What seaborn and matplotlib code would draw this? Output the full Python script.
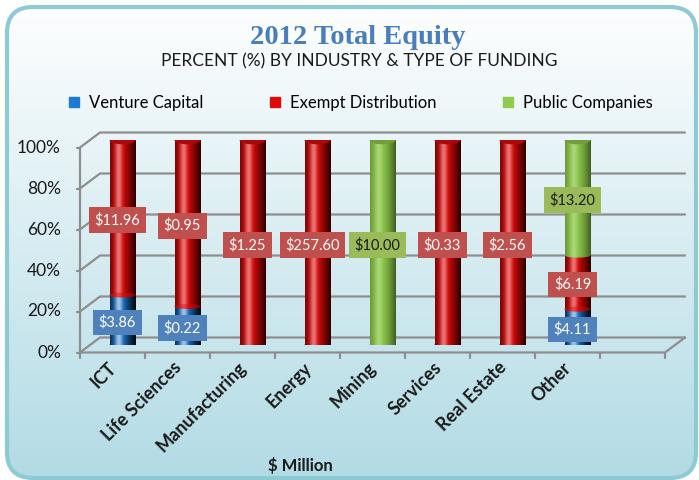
import numpy as np
import pandas as pd
import matplotlib
matplotlib.use("Agg")
import matplotlib.pyplot as plt
import seaborn as sns
from matplotlib.patches import FancyBboxPatch, Ellipse
from matplotlib.lines import Line2D
from matplotlib.transforms import ScaledTranslation
from matplotlib.colors import to_rgb

# ---- data ($ million) ----
industries = ["ICT", "Life Sciences", "Manufacturing", "Energy",
              "Mining", "Services", "Real Estate", "Other"]
venture_capital = [3.86, 0.22, 0.0, 0.0, 0.0, 0.0, 0.0, 4.11]
exempt_distribution = [11.96, 0.95, 1.25, 257.60, 0.0, 0.33, 2.56, 6.19]
public_companies = [0.0, 0.0, 0.0, 0.0, 10.00, 0.0, 0.0, 13.20]
series_names = ["Venture Capital", "Exempt Distribution", "Public Companies"]
y_ticks = [0, 20, 40, 60, 80, 100]

df = pd.DataFrame({"Industry": industries,
                   "Venture Capital": venture_capital,
                   "Exempt Distribution": exempt_distribution,
                   "Public Companies": public_companies})
total = df[series_names].sum(axis=1)
pct = df[series_names].div(total, axis=0) * 100
cum = pct.cumsum(axis=1)

bar_colors = {"Venture Capital": "#1f7ad4",
              "Exempt Distribution": "#de0a0a",
              "Public Companies": "#8fcb4c"}
box_colors = {"Venture Capital": "#4f81bd",
              "Exempt Distribution": "#c0504d",
              "Public Companies": "#9bbb59"}
box_text = {"Venture Capital": "white",
            "Exempt Distribution": "white",
            "Public Companies": "#1a1a1a"}

W, H, DPI = 6.99, 4.80, 100
fig = plt.figure(figsize=(W, H), dpi=DPI)
fig.patch.set_facecolor("white")

# ---- rounded panel with vertical gradient ----
bg = fig.add_axes([0, 0, 1, 1], zorder=-5)
bg.set_xlim(0, 699)
bg.set_ylim(480, 0)
bg.axis("off")
panel = FancyBboxPatch((7, 7), 689, 471, boxstyle="round,pad=0,rounding_size=26",
                       facecolor="none", edgecolor="#8ecad3", linewidth=3, zorder=3)
bg.add_patch(panel)
top_c = np.array(to_rgb("#ffffff"))
bot_c = np.array(to_rgb("#b2dbe5"))
t = np.linspace(0, 1, 256)[:, None]
grad = top_c[None, None, :] * (1 - t[..., None]) + bot_c[None, None, :] * t[..., None]
grad = np.repeat(grad, 2, axis=1)
im = bg.imshow(grad, extent=(0, 699, 480, 0), aspect="auto", zorder=1)
clip = FancyBboxPatch((7, 7), 689, 471, boxstyle="round,pad=0,rounding_size=26",
                      transform=bg.transData, facecolor="none", edgecolor="none")
bg.add_patch(clip)
im.set_clip_path(clip)

# ---- main plotting area (plane through the cylinders) ----
ax = fig.add_axes([90 / 699, 135 / 480, 585 / 699, 205 / 480])
ax.set_facecolor("none")
for s in ax.spines.values():
    s.set_visible(False)

xl, xr = -0.5, 8.5
DX = 10 / 65.0       # half depth of the 3-D box in category units
DY = 7.5 / 2.05      # half depth of the 3-D box in percent units
grid_kw = dict(color="#8e8e8e", lw=1.6, solid_capstyle="round", zorder=0.5, clip_on=False)

# back wall gridlines plus the slanted left wall
for yv in y_ticks:
    ax.plot([xl - DX, xl + DX, xr + DX], [yv - DY, yv + DY, yv + DY], **grid_kw)
    ax.plot([xl - DX - 0.04, xl - DX], [yv - DY, yv - DY], **grid_kw)
# front vertical axis and floor edge
ax.plot([xl - DX, xl - DX], [-DY, 100 - DY], **grid_kw)
ax.plot([xl - DX, xr - DX, xr + DX], [-DY, -DY, DY], **grid_kw)
for k in range(10):
    ax.plot([xl - DX + k, xl - DX + k], [-DY, -DY - 2.6], **grid_kw)

front = ax.transData + ScaledTranslation(-0.10, -0.075, fig.dpi_scale_trans)
for yv in y_ticks:
    ax.text(xl, yv, f"{yv}%", transform=front + ScaledTranslation(-0.19, 0, fig.dpi_scale_trans),
            ha="right", va="center", fontsize=12.5, family="Lato", color="#1a1a1a")

# ---- stacked cylinders: tallest cumulative layer first ----
layer_patches = {}
for name in reversed(series_names):
    before = len(ax.patches)
    sns.barplot(x=df["Industry"], y=cum[name], color=bar_colors[name], saturation=1,
                width=0.4, ax=ax, linewidth=0, zorder=2)
    layer_patches[name] = ax.patches[before:]

cap_h = 4.2
shade_black = np.zeros((1, 64, 4))
shade_white = np.ones((1, 64, 4))
u = np.linspace(0, 1, 64)
shade_black[0, :, 3] = 0.55 * np.clip(np.abs(u - 0.38) / 0.62, 0, 1) ** 1.6
shade_white[0, :, 3] = 0.25 * np.exp(-((u - 0.33) / 0.13) ** 2)


def shade(patch, z):
    if isinstance(patch, Ellipse):
        cx, cy = patch.center
        x0, x1 = cx - patch.width / 2, cx + patch.width / 2
        y0, y1 = cy - patch.height / 2, cy + patch.height / 2
    else:
        bb = patch.get_bbox()
        x0, x1, y0, y1 = bb.x0, bb.x1, bb.y0, bb.y1
    if y1 - y0 <= 0:
        return
    for arr in (shade_black, shade_white):
        im2 = ax.imshow(arr, extent=(x0, x1, y0, y1), aspect="auto", zorder=z + 0.01,
                        interpolation="bilinear")
        im2.set_clip_path(patch)


def darker(c, f=0.78):
    return tuple(np.array(to_rgb(c)) * f)


for name in series_names:
    for p in layer_patches[name]:
        p.set_zorder(2)

for i in range(len(industries)):
    present = [n for n in series_names if pct.loc[i, n] > 0]
    bottom_name, top_name = present[0], present[-1]
    # rounded base
    base = Ellipse((i, 0), 0.4, cap_h, facecolor=bar_colors[bottom_name], lw=0, zorder=1.9)
    ax.add_patch(base)
    shade(base, 1.9)
    # segment boundaries: lower front rim of the upper segment
    for lo, hi in zip(present[:-1], present[1:]):
        e = Ellipse((i, cum.loc[i, lo]), 0.4, 2.4, facecolor=bar_colors[hi], lw=0, zorder=2.3)
        ax.add_patch(e)
        shade(e, 2.3)
    # top cap
    top = Ellipse((i, 100), 0.4, cap_h, facecolor=darker(bar_colors[top_name]), lw=0, zorder=2.6)
    ax.add_patch(top)

for name in series_names:
    for p in layer_patches[name]:
        shade(p, 2)

# ---- value labels ----
lab_tr = ax.transData + ScaledTranslation(-0.05, -0.025, fig.dpi_scale_trans)
for i in range(len(industries)):
    lower = 0.0
    for name in series_names:
        v = df.loc[i, name]
        if v > 0:
            mid = lower + pct.loc[i, name] / 2
            ax.text(i, mid, f"\\${v:.2f}", transform=lab_tr, ha="center", va="center",
                    fontsize=10.5, family="Lato", color=box_text[name], zorder=5,
                    bbox=dict(boxstyle="square,pad=0.38", facecolor=box_colors[name],
                              edgecolor="none"))
        lower += pct.loc[i, name]

# ---- category labels ----
xlab_tr = ax.transData + ScaledTranslation(-0.09, -0.2, fig.dpi_scale_trans)
for i, name in enumerate(industries):
    ax.text(i, 0, name, transform=xlab_tr, rotation=45, rotation_mode="anchor",
            ha="right", va="center", fontsize=13, fontweight="bold", family="Lato",
            color="#1a1a1a")

ax.set_xlim(xl, xr)
ax.set_ylim(0, 100)
ax.set_xticks([])
ax.set_yticks([])
ax.set_xlabel("")
ax.set_ylabel("")

# ---- titles, legend, axis caption ----
fig.text(358 / 699, 1 - 38 / 480, "2012 Total Equity", ha="center", va="center",
         fontsize=20.5, fontweight="bold", family="Liberation Serif", color="#4a7ebb")
fig.text(359 / 699, 1 - 61 / 480, "PERCENT (%) BY INDUSTRY & TYPE OF FUNDING",
         ha="center", va="center", fontsize=12.5, family="Lato", color="#1a1a1a")

handles = [Line2D([], [], marker="s", linestyle="none", markersize=7,
                  markerfacecolor=bar_colors[n], markeredgecolor=bar_colors[n])
           for n in series_names]
fig.legend(handles, series_names, loc="center", bbox_to_anchor=(360 / 699, 1 - 103 / 480),
           ncol=3, frameon=False, prop={"family": "Lato", "size": 12},
           handlelength=0.8, handletextpad=0.5, columnspacing=3.9)

fig.text(300 / 699, 1 - 465 / 480, "\\$ Million", ha="center", va="center",
         fontsize=12, fontweight="bold", family="Lato", color="#1a1a1a")

fig.savefig("out.png", dpi=DPI)
